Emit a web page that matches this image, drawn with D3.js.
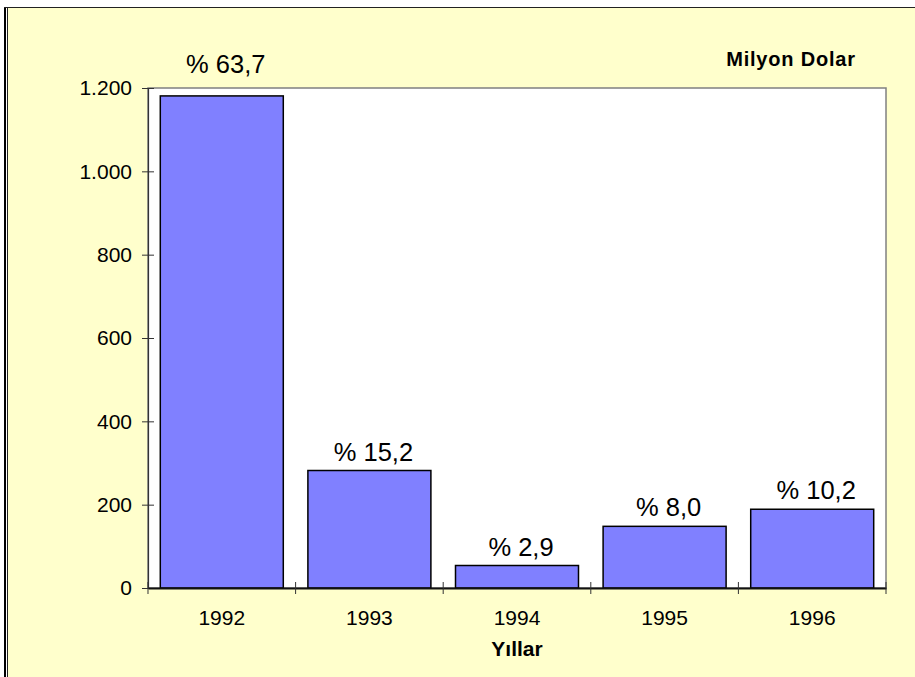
<!DOCTYPE html>
<html>
<head>
<meta charset="utf-8">
<script src="https://cdn.jsdelivr.net/npm/d3@7"></script>
<style>
  html, body { margin: 0; padding: 0; background: #fff; }
  svg { display: block; font-family: "Liberation Sans", Arial, sans-serif; }
</style>
</head>
<body>
<div id="chart"></div>
<script>
// veriler
const years = ["1992", "1993", "1994", "1995", "1996"];
const values = [1181, 282, 54, 148, 189];
const shares = ["% 63,7", "% 15,2", "% 2,9", "% 8,0", "% 10,2"];
const yTicks = [0, 200, 400, 600, 800, 1000, 1200];

function drawChart() {
    const width = 915, height = 677;
    const plot = { left: 148, right: 886, top: 88, bottom: 588 };

    const svg = d3.select("#chart").append("svg")
        .attr("width", width)
        .attr("height", height);

    // dış çerçeve
    svg.append("rect")
        .attr("x", 8).attr("y", 8)
        .attr("width", width - 8).attr("height", height - 8)
        .attr("fill", "#FFFFCC");
    svg.append("line")
        .attr("x1", 5).attr("x2", 5).attr("y1", 7).attr("y2", height)
        .attr("stroke", "#000").attr("stroke-width", 2);
    svg.append("line")
        .attr("x1", 7.5).attr("x2", 7.5).attr("y1", 7).attr("y2", height)
        .attr("stroke", "#222").attr("stroke-width", 1);
    svg.append("line")
        .attr("x1", 4).attr("x2", width).attr("y1", 7.5).attr("y2", 7.5)
        .attr("stroke", "#222").attr("stroke-width", 1.2);

    // çizim alanı
    svg.append("rect")
        .attr("x", plot.left).attr("y", plot.top)
        .attr("width", plot.right - plot.left)
        .attr("height", plot.bottom - plot.top)
        .attr("fill", "#fff")
        .attr("stroke", "#808080")
        .attr("stroke-width", 1.5);

    const x = d3.scaleBand()
        .domain(years)
        .range([plot.left, plot.right])
        .paddingInner(0.1667)
        .paddingOuter(0.0833);

    const y = d3.scaleLinear()
        .domain([0, 1200])
        .range([plot.bottom, plot.top]);

    // çubuklar
    svg.selectAll(".bar")
        .data(values)
        .enter()
        .append("rect")
        .attr("class", "bar")
        .attr("x", (d, i) => x(years[i]))
        .attr("y", d => y(d))
        .attr("width", x.bandwidth())
        .attr("height", d => y(0) - y(d))
        .attr("fill", "#8080FF")
        .attr("stroke", "#000")
        .attr("stroke-width", 1.5);

    // Y ekseni
    const fmt = d => d3.format(",")(d).replace(/,/g, ".");
    const yAxis = svg.append("g")
        .attr("transform", `translate(${plot.left},0)`)
        .call(d3.axisLeft(y).tickValues(yTicks).tickFormat(fmt).tickSize(6).tickPadding(10));
    yAxis.select(".domain").attr("stroke", "#333").attr("stroke-width", 1.2);
    yAxis.selectAll(".tick line").attr("x2", 6).attr("x1", -6).attr("stroke", "#333");
    yAxis.selectAll(".tick text")
        .attr("x", -16)
        .attr("font-size", "21px")
        .attr("font-family", "Liberation Sans, Arial, sans-serif")
        .attr("fill", "#000");

    // X ekseni
    const xAxis = svg.append("g")
        .attr("transform", `translate(0,${plot.bottom})`)
        .call(d3.axisBottom(x).tickSize(0).tickPadding(22));
    xAxis.select(".domain").attr("stroke", "#111").attr("stroke-width", 2);
    xAxis.selectAll(".tick text")
        .attr("font-size", "21px")
        .attr("font-family", "Liberation Sans, Arial, sans-serif")
        .attr("fill", "#000");

    // kategori sınır çentikleri
    const bounds = years.map(d => x(d) - x.step() * x.paddingInner() / 2)
        .concat([plot.right]);
    svg.selectAll(".xtick")
        .data(bounds)
        .enter()
        .append("line")
        .attr("x1", d => d).attr("x2", d => d)
        .attr("y1", plot.bottom - 6).attr("y2", plot.bottom + 6)
        .attr("stroke", "#333");

    // yüzde etiketleri
    svg.selectAll(".share")
        .data(values)
        .enter()
        .append("text")
        .attr("x", (d, i) => x(years[i]) + x.bandwidth() / 2 + 4)
        .attr("y", d => {
            const yy = y(d) - 10;
            return yy < plot.top ? plot.top - 15 : yy;
        })
        .attr("text-anchor", "middle")
        .attr("font-size", "25.5px")
        .attr("fill", "#000")
        .text((d, i) => shares[i]);

    // birim
    svg.append("text")
        .attr("x", 791).attr("y", 66)
        .attr("text-anchor", "middle")
        .attr("font-size", "20px")
        .attr("font-weight", "bold")
        .attr("letter-spacing", "0.8px")
        .text("Milyon Dolar");

    // eksen başlığı
    svg.append("text")
        .attr("x", (plot.left + plot.right) / 2)
        .attr("y", 656)
        .attr("text-anchor", "middle")
        .attr("font-size", "21px")
        .attr("font-weight", "bold")
        .text("Yıllar");
}

drawChart();
</script>
</body>
</html>
